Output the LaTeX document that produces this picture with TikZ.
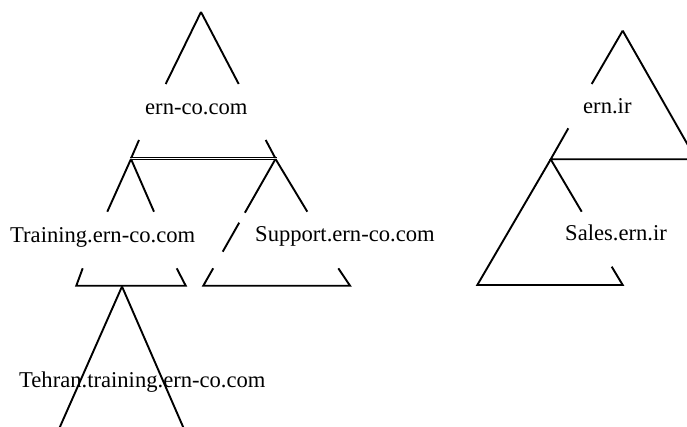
\documentclass[tikz,border=0pt]{standalone}
\usepackage{fontspec}
\setmainfont{Liberation Serif}
\begin{document}
\begin{tikzpicture}[x=1pt,y=-1pt,
  leg/.style={line width=1.9pt,line cap=butt},
  dbl/.style={draw=black,line width=1.1pt,double=white,double distance=0.5pt},
  lbl/.style={anchor=base west,inner sep=0pt,font=\fontsize{22.6}{27}\selectfont}]
\useasboundingbox (0,0) rectangle (687,427);
% ---- ern-co.com triangle
\coordinate (a1) at (201,12);
\draw[leg] (a1) -- (165.7,84);
\draw[leg] (a1) -- (238.7,84);
\draw[leg] (139,140) -- (131,158.5);
\draw[leg] (265.7,140) -- (275.5,158.5);
\draw[dbl] (130,158.5) -- (277,158.5);
\node[lbl] (t1) at (145,115) {ern-co.com};
% ---- Training triangle
\coordinate (a2) at (131,159);
\draw[leg] (a2) -- (107.3,211.7);
\draw[leg] (a2) -- (154,211.7);
\draw[leg] (82.7,268.3) -- (76.3,285.7) -- (185.7,285.7) -- (176.7,268.3);
\node[lbl] (t2) at (10,242.3) {Training.ern-co.com};
% ---- Support triangle
\coordinate (a3) at (275.5,159);
\draw[leg] (a3) -- (244.9,212.7);
\draw[leg] (239.2,222.7) -- (222.7,251.7);
\draw[leg] (a3) -- (307.3,211.7);
\draw[leg] (213.2,268.3) -- (203.3,285.7) -- (350,285.7) -- (338.3,268.3);
\node[lbl] (t3) at (255,242) {Support.ern-co.com};
% ---- Tehran triangle
\coordinate (a4) at (122,286.5);
\draw[leg] (a4) -- (59,429);
\draw[leg] (a4) -- (184,429);
\node[lbl] (t4) at (19,387) {Tehran.training.ern-co.com};
% ---- ern.ir triangle
\coordinate (a5) at (622.7,30.7);
\draw[leg] (a5) -- (591.7,84);
\draw[leg] (a5) -- (697,161);
\draw[leg] (568.3,128.3) -- (550.7,159.3) -- (690,159.3);
\node[lbl] (t5) at (583,114) {ern.ir};
% ---- Sales.ern.ir triangle
\coordinate (a6) at (550.7,159.3);
\draw[leg] (a6) -- (581.7,211.7);
\draw[leg] (a6) -- (477.3,285) -- (622.7,285) -- (611.7,266.7);
\node[lbl] (t6) at (565,241) {Sales.ern.ir};
\end{tikzpicture}
\end{document}
